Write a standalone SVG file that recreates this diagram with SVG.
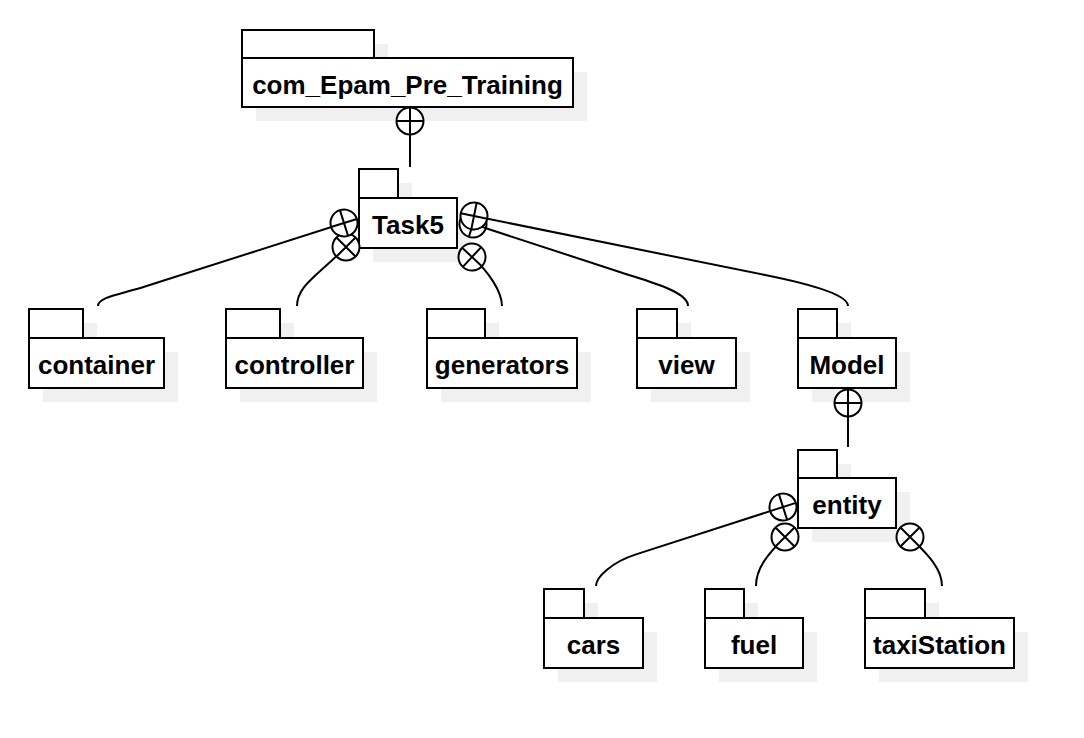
<svg xmlns="http://www.w3.org/2000/svg" xmlns:xlink="http://www.w3.org/1999/xlink" width="1084" height="738" viewBox="0 0 1084 738">
<style>
.sh{fill:#f0f0f0;stroke:none}
.box{fill:#fff;stroke:#000;stroke-width:2}
.lbl{font-family:"Liberation Sans",Arial,sans-serif;font-weight:bold;font-size:26px;text-anchor:middle;fill:#000}
.conn{fill:none;stroke:#000;stroke-width:2}
</style>
<defs>
<g id="cont"><circle r="13.5" fill="#fff" stroke="#000" stroke-width="2"/><path d="M-13.5,0H13.5M0,-13.5V13.5" stroke="#000" stroke-width="2" fill="none"/></g>
</defs>
<rect width="1084" height="738" fill="#fff"/>
<g id="node-com_Epam_Pre_Training">
<rect class="sh" x="256" y="44" width="132" height="28"/><rect class="sh" x="256" y="72" width="331" height="49"/>
<rect class="box" x="242" y="30" width="132" height="28"/><rect class="box" x="242" y="58" width="331" height="49"/>
<text class="lbl" x="407.5" y="94">com_Epam_Pre_Training</text>
</g>
<g id="node-Task5">
<rect class="sh" x="373" y="183" width="39" height="29"/><rect class="sh" x="373" y="212" width="98" height="50"/>
<rect class="box" x="359" y="169" width="39" height="29"/><rect class="box" x="359" y="198" width="98" height="50"/>
<text class="lbl" x="408" y="234">Task5</text>
</g>
<g id="node-container">
<rect class="sh" x="43" y="323" width="54" height="29"/><rect class="sh" x="43" y="352" width="135" height="50"/>
<rect class="box" x="29" y="309" width="54" height="29"/><rect class="box" x="29" y="338" width="135" height="50"/>
<text class="lbl" x="96.5" y="374">container</text>
</g>
<g id="node-controller">
<rect class="sh" x="240" y="323" width="54" height="29"/><rect class="sh" x="240" y="352" width="137" height="50"/>
<rect class="box" x="226" y="309" width="54" height="29"/><rect class="box" x="226" y="338" width="137" height="50"/>
<text class="lbl" x="294.5" y="374">controller</text>
</g>
<g id="node-generators">
<rect class="sh" x="441" y="323" width="58" height="29"/><rect class="sh" x="441" y="352" width="150" height="50"/>
<rect class="box" x="427" y="309" width="58" height="29"/><rect class="box" x="427" y="338" width="150" height="50"/>
<text class="lbl" x="502" y="374">generators</text>
</g>
<g id="node-view">
<rect class="sh" x="651" y="323" width="40" height="29"/><rect class="sh" x="651" y="352" width="99" height="50"/>
<rect class="box" x="637" y="309" width="40" height="29"/><rect class="box" x="637" y="338" width="99" height="50"/>
<text class="lbl" x="686.5" y="374">view</text>
</g>
<g id="node-Model">
<rect class="sh" x="812" y="323" width="39" height="29"/><rect class="sh" x="812" y="352" width="98" height="50"/>
<rect class="box" x="798" y="309" width="39" height="29"/><rect class="box" x="798" y="338" width="98" height="50"/>
<text class="lbl" x="847" y="374">Model</text>
</g>
<g id="node-entity">
<rect class="sh" x="812" y="464" width="39" height="28"/><rect class="sh" x="812" y="492" width="98" height="50"/>
<rect class="box" x="798" y="450" width="39" height="28"/><rect class="box" x="798" y="478" width="98" height="50"/>
<text class="lbl" x="847" y="514">entity</text>
</g>
<g id="node-cars">
<rect class="sh" x="558" y="603" width="40" height="29"/><rect class="sh" x="558" y="632" width="99" height="50"/>
<rect class="box" x="544" y="589" width="40" height="29"/><rect class="box" x="544" y="618" width="99" height="50"/>
<text class="lbl" x="593.5" y="654">cars</text>
</g>
<g id="node-fuel">
<rect class="sh" x="719" y="603" width="39" height="29"/><rect class="sh" x="719" y="632" width="98" height="50"/>
<rect class="box" x="705" y="589" width="39" height="29"/><rect class="box" x="705" y="618" width="98" height="50"/>
<text class="lbl" x="754" y="654">fuel</text>
</g>
<g id="node-taxiStation">
<rect class="sh" x="879" y="603" width="60" height="29"/><rect class="sh" x="879" y="632" width="149" height="50"/>
<rect class="box" x="865" y="589" width="60" height="29"/><rect class="box" x="865" y="618" width="149" height="50"/>
<text class="lbl" x="939.5" y="654">taxiStation</text>
</g>
<g id="connectors">
<path class="conn" d="M410,107V167"/>
<path class="conn" d="M98,306C98,297 120,294.4 145,286.5L344,223"/>
<path class="conn" d="M297,306C297,286 316,277 346,247"/>
<path class="conn" d="M502,306C502,292 489,272 472,257"/>
<path class="conn" d="M473,224L622,272.7C652,282.5 688,292 688,306"/>
<path class="conn" d="M474,216L765,275C805,283 848,294 848,306"/>
<path class="conn" d="M848,388V447"/>
<path class="conn" d="M596,586C596,577 612,562.1 636,554.4L783,507"/>
<path class="conn" d="M756,586C756,568 768,554 785,537"/>
<path class="conn" d="M942,586C942,568 927,554 910,537"/>
<use xlink:href="#cont" transform="translate(410,121)"/>
<use xlink:href="#cont" transform="translate(346,247) rotate(-45)"/>
<use xlink:href="#cont" transform="translate(344,223) rotate(-17.5)"/>
<use xlink:href="#cont" transform="translate(472,257) rotate(43)"/>
<use xlink:href="#cont" transform="translate(473,224) rotate(18)"/>
<use xlink:href="#cont" transform="translate(474,216) rotate(11.5)"/>
<use xlink:href="#cont" transform="translate(848,403)"/>
<use xlink:href="#cont" transform="translate(783,507) rotate(-17.8)"/>
<use xlink:href="#cont" transform="translate(785,537) rotate(-45)"/>
<use xlink:href="#cont" transform="translate(910,537) rotate(45)"/>
</g>
</svg>
